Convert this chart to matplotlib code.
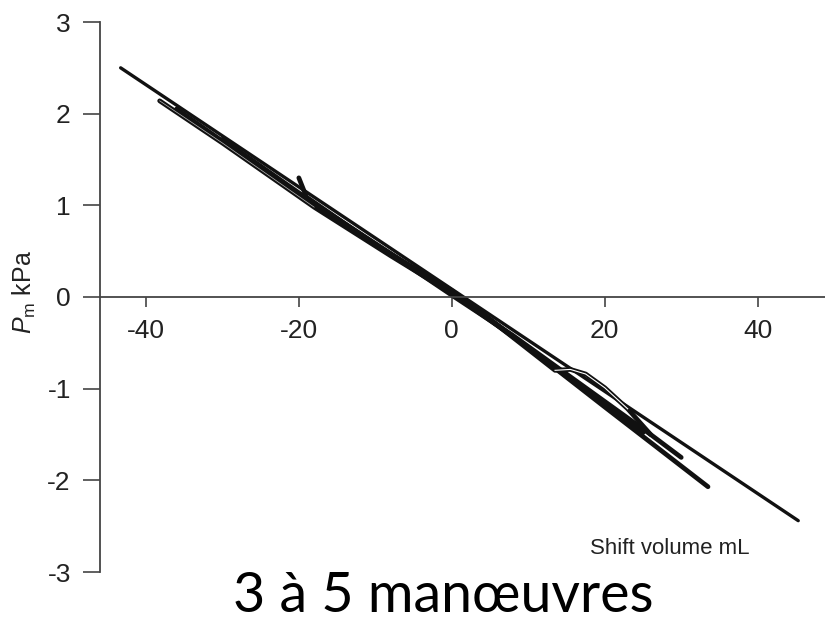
import matplotlib.pyplot as plt

# traces of the 3 to 5 manoeuvres (shift volume mL, Pm kPa)
t1_x = [-43.3, 45.3]
t1_y = [2.50, -2.44]
t2_x = [-38.2, -30, -18, -8, 0, 10, 20, 33.5]
t2_y = [2.14, 1.68, 0.98, 0.45, 0.04, -0.55, -1.20, -2.07]
t3_x = [-20.0, -19.0, -10, 0, 12, 25]
t3_y = [1.30, 1.09, 0.57, 0.07, -0.68, -1.48]
t4_x = [-30, -18, -5, 2, 13.5, 15.5, 17.5, 20, 23, 26, 30]
t4_y = [1.72, 1.02, 0.31, -0.05, -0.80, -0.79, -0.84, -0.99, -1.22, -1.50, -1.75]
t5_x = [-36, -20, -8, 0, 8, 26]
t5_y = [2.05, 1.12, 0.47, 0.02, -0.42, -1.50]

x_ticks = [-40, -20, 0, 20, 40]
y_ticks = [-3, -2, -1, 0, 1, 2, 3]

sans = ['Liberation Sans', 'DejaVu Sans']
plt.rcParams['mathtext.fontset'] = 'custom'
plt.rcParams['mathtext.it'] = 'Liberation Sans:italic'
plt.rcParams['mathtext.rm'] = 'Liberation Sans'

fig = plt.figure(figsize=(8.25, 6.21), dpi=100)
ax = fig.add_axes([100 / 825, 1 - 572 / 621, 725 / 825, 550 / 621])
ax.set_xlim(-46, 48.8)
ax.set_ylim(-3, 3)

ax.plot(t1_x, t1_y, color='#111111', lw=2.4, solid_capstyle='round')
for xs, ys in [(t2_x, t2_y), (t3_x, t3_y), (t4_x, t4_y), (t5_x, t5_y)]:
    ax.plot(xs, ys, color='#111111', lw=3.4, solid_capstyle='round')
# white cores from the double-outline look of the scanned traces
ax.plot(t2_x[:3], t2_y[:3], color='white', lw=0.5, alpha=0.7)
ax.plot(t4_x[4:9], t4_y[4:9], color='white', lw=0.8)

for s in ['top', 'right']:
    ax.spines[s].set_visible(False)
ax.spines['bottom'].set_position(('data', 0))
ax.spines['left'].set_color('#444444')
ax.spines['bottom'].set_color('#444444')
ax.spines['left'].set_linewidth(1.3)
ax.spines['bottom'].set_linewidth(1.3)

ax.set_xticks(x_ticks)
ax.set_yticks(y_ticks)
ax.set_xticklabels([str(v) for v in x_ticks], family=sans, fontsize=19, color='#222222')
ax.set_yticklabels([str(v) for v in y_ticks], family=sans, fontsize=19, color='#222222')
ax.tick_params(axis='x', direction='out', length=7, width=1.2, color='#444444', pad=9)
ax.tick_params(axis='y', direction='out', length=12, width=1.2, color='#444444', pad=9)

fig.text(24 / 825, 1 - 292 / 621, r'$P_{\mathrm{m}}$ kPa', rotation=90,
         ha='center', va='center', family=sans, fontsize=18, color='#222222')
fig.text(670 / 825, 1 - 548 / 621, 'Shift volume mL', ha='center', va='center',
         family=sans, fontsize=16, color='#222222')
fig.text(443 / 825, 1 - 612 / 621, '3 à 5 manœuvres', ha='center', va='baseline',
         family=['Lato', 'DejaVu Sans'], fontsize=40, color='black')

fig.savefig('out.png', dpi=100)
